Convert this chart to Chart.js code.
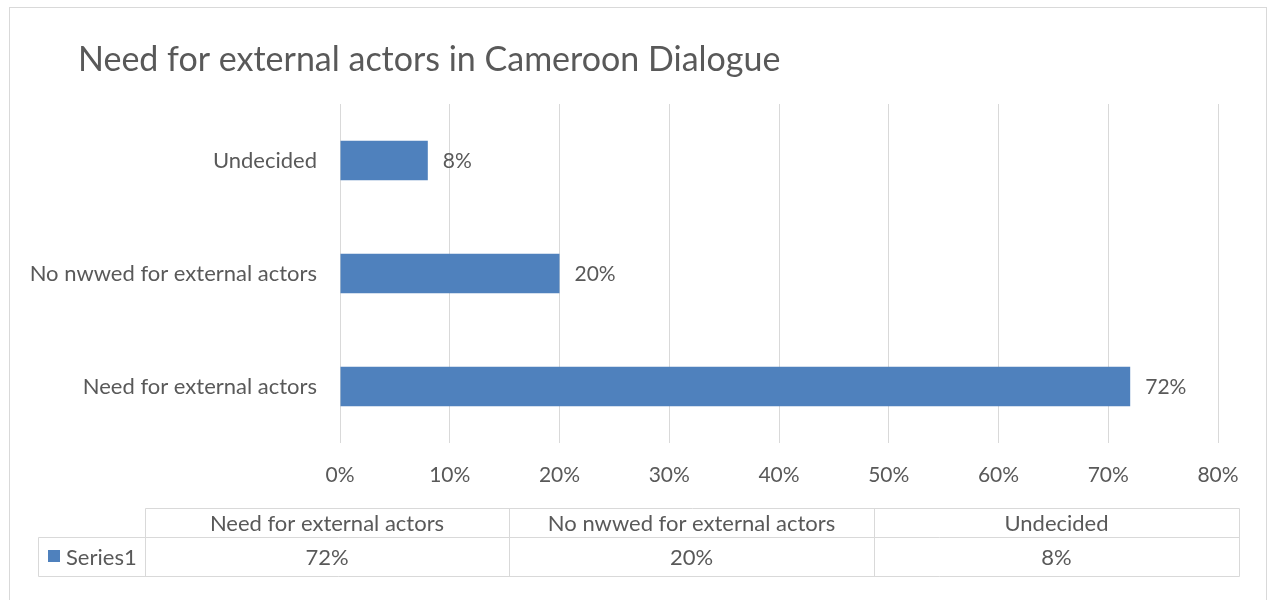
<!DOCTYPE html>
<html>
<head>
<meta charset="utf-8">
<script src="https://cdn.jsdelivr.net/npm/chart.js@4"></script>
<style>
  html, body { margin: 0; padding: 0; background: #fff; }
  #wrap { position: relative; width: 1274px; height: 600px; }
</style>
</head>
<body>
<div id="wrap"><canvas id="chart" width="1274" height="600"></canvas></div>
<script>
const categories = ["Need for external actors", "No nwwed for external actors", "Undecided"];
const series1 = [72, 20, 8];
const seriesName = "Series1";
const xTicks = [0, 10, 20, 30, 40, 50, 60, 70, 80];
const chartTitle = "Need for external actors in Cameroon Dialogue";

const C = {
  bar: "#4F81BD",
  text: "#595959",
  grid: "#D9D9D9",
  frame: "#D9D9D9"
};
const FONT = "Lato, 'Open Sans', sans-serif";

// frame, title and the data table under the plot
const decor = {
  id: "decor",
  beforeDraw(chart) {
    const ctx = chart.ctx;
    ctx.save();
    ctx.fillStyle = "#fff";
    ctx.fillRect(0, 0, chart.width, chart.height);
    ctx.strokeStyle = C.frame;
    ctx.lineWidth = 1;
    ctx.strokeRect(9.5, 7.5, 1257, 620);
    ctx.fillStyle = C.text;
    ctx.font = "34px " + FONT;
    ctx.textBaseline = "alphabetic";
    ctx.textAlign = "left";
    ctx.fillText(chartTitle, 78, 71);
    ctx.restore();
  },
  afterDraw(chart) {
    const ctx = chart.ctx;
    const cols = [145, 509, 874, 1239];
    const top = 508.5, mid = 537.5, bot = 576.5, legL = 38.5;
    ctx.save();
    ctx.strokeStyle = C.frame;
    ctx.lineWidth = 1;
    ctx.beginPath();
    ctx.moveTo(cols[0] + 0.5, top); ctx.lineTo(cols[3] + 0.5, top);
    ctx.moveTo(legL, mid); ctx.lineTo(cols[3] + 0.5, mid);
    ctx.moveTo(legL, bot); ctx.lineTo(cols[3] + 0.5, bot);
    ctx.moveTo(legL, mid); ctx.lineTo(legL, bot);
    cols.forEach(x => { ctx.moveTo(x + 0.5, top); ctx.lineTo(x + 0.5, bot); });
    ctx.stroke();

    ctx.fillStyle = C.text;
    ctx.font = "22px " + FONT;
    ctx.textAlign = "center";
    ctx.textBaseline = "middle";
    categories.forEach((c, i) => {
      const cx = (cols[i] + cols[i + 1]) / 2;
      ctx.fillText(c, cx, (top + mid) / 2 + 1);
      ctx.fillText(series1[i] + "%", cx, (mid + bot) / 2 + 1);
    });
    ctx.fillStyle = C.bar;
    ctx.fillRect(48, 550, 12, 12);
    ctx.fillStyle = C.text;
    ctx.textAlign = "left";
    ctx.fillText(seriesName, 66, (mid + bot) / 2 + 1);
    ctx.restore();
  }
};

// value labels at the end of each bar
const barLabels = {
  id: "barLabels",
  afterDatasetsDraw(chart) {
    const ctx = chart.ctx;
    const meta = chart.getDatasetMeta(0);
    ctx.save();
    ctx.fillStyle = C.text;
    ctx.font = "21px " + FONT;
    ctx.textAlign = "left";
    ctx.textBaseline = "middle";
    meta.data.forEach((el, i) => {
      ctx.fillText(series1[i] + "%", el.x + 15, el.y + 1);
    });
    ctx.restore();
  }
};

new Chart(document.getElementById("chart"), {
  type: "bar",
  data: {
    labels: categories,
    datasets: [{
      label: seriesName,
      data: series1,
      backgroundColor: C.bar,
      borderWidth: 0,
      barPercentage: 0.35,
      categoryPercentage: 1
    }]
  },
  options: {
    indexAxis: "y",
    responsive: false,
    animation: false,
    layout: { padding: { left: 10, top: 104, right: 56, bottom: 97 } },
    plugins: {
      legend: { display: false },
      tooltip: { enabled: false }
    },
    scales: {
      x: {
        min: xTicks[0],
        max: xTicks[xTicks.length - 1],
        afterBuildTicks: s => { s.ticks = xTicks.map(v => ({ value: v })); },
        ticks: {
          color: C.text,
          font: { family: FONT, size: 21 },
          padding: 20,
          callback: v => v + "%"
        },
        grid: { color: C.grid, drawTicks: false },
        border: { display: false },
        afterFit: s => { s.height = 60; }
      },
      y: {
        reverse: true,
        ticks: {
          color: C.text,
          font: { family: FONT, size: 22 },
          padding: 15
        },
        grid: { display: false },
        border: { display: false },
        afterFit: s => { s.width = 330; }
      }
    }
  },
  plugins: [decor, barLabels]
});
</script>
</body>
</html>
